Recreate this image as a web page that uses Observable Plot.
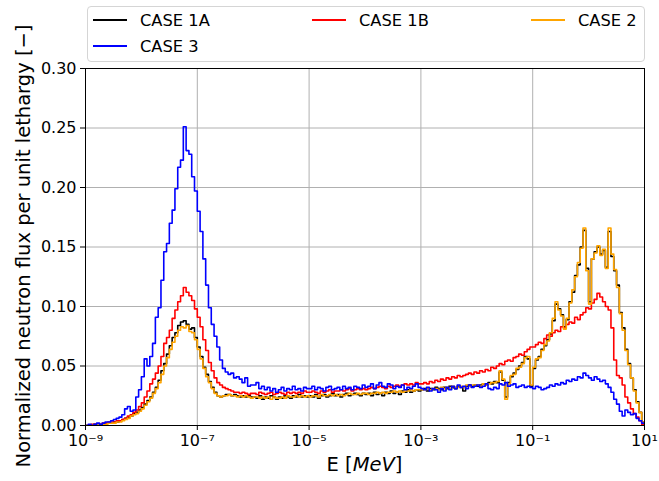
<!DOCTYPE html>
<html><head><meta charset="utf-8">
<script src="https://cdn.jsdelivr.net/npm/d3@7"></script>
<script src="https://cdn.jsdelivr.net/npm/@observablehq/plot@0.6"></script>
<style>
body{margin:0;background:#fff;font-family:"DejaVu Sans",sans-serif;}
#wrap{position:relative;width:659px;height:481px;}
#legend{position:absolute;left:87px;top:6px;width:558px;height:56px;box-sizing:border-box;border:1px solid #d5d5d5;border-radius:4px;background:rgba(255,255,255,0.85);}
.item{position:absolute;display:flex;align-items:center;font-size:16.3px;color:#000;white-space:nowrap;height:20px;margin-top:-10px;}
.sw{width:34px;height:0;border-top:2px solid;margin-right:13px;}
</style></head><body><div id="wrap"><div id="legend"></div></div>
<script>
// Bins: 20 per decade, from E = 1e-9 MeV to 1e1 MeV (200 bins)
const logStart = -9;
const binsPerDecade = 20;

const case1A = [
 0.000,0.000,0.000,0.001,0.001,0.001,0.001,0.002,0.002,0.002,0.003,0.003,0.004,0.005,0.006,0.007,0.008,0.010,0.011,0.013,
 0.015,0.018,0.021,0.024,0.028,0.032,0.038,0.046,0.052,0.060,0.067,0.074,0.078,0.084,0.087,0.088,0.085,0.081,0.082,0.074,
 0.066,0.058,0.049,0.043,0.037,0.032,0.028,0.025,0.024,0.025,0.026,0.026,0.025,0.026,0.025,0.024,0.025,0.024,0.025,0.024,
 0.024,0.023,0.025,0.022,0.024,0.023,0.025,0.024,0.022,0.024,0.023,0.025,0.024,0.023,0.025,0.024,0.026,0.024,0.025,0.024,
 0.025,0.024,0.026,0.023,0.025,0.026,0.024,0.025,0.027,0.025,0.026,0.024,0.026,0.027,0.025,0.026,0.027,0.026,0.025,0.027,
 0.026,0.027,0.025,0.028,0.026,0.027,0.025,0.028,0.027,0.029,0.027,0.028,0.026,0.029,0.028,0.030,0.028,0.029,0.030,0.029,
 0.030,0.031,0.029,0.031,0.030,0.032,0.031,0.030,0.032,0.031,0.033,0.032,0.031,0.033,0.032,0.029,0.033,0.034,0.033,0.034,
 0.033,0.034,0.035,0.034,0.036,0.035,0.037,0.036,0.045,0.038,0.024,0.036,0.041,0.044,0.047,0.050,0.053,0.058,0.056,0.033,
 0.048,0.055,0.058,0.064,0.067,0.072,0.077,0.088,0.102,0.098,0.093,0.083,0.089,0.104,0.112,0.126,0.135,0.150,0.164,0.132,
 0.104,0.140,0.146,0.150,0.144,0.147,0.133,0.163,0.142,0.130,0.118,0.095,0.082,0.064,0.052,0.040,0.030,0.020,0.011,0.003
];
const case1B = [
 0.000,0.000,0.001,0.001,0.001,0.001,0.002,0.002,0.003,0.003,0.003,0.004,0.004,0.005,0.006,0.008,0.009,0.011,0.013,0.016,
 0.019,0.024,0.029,0.035,0.039,0.044,0.050,0.058,0.069,0.074,0.080,0.090,0.097,0.104,0.109,0.116,0.112,0.109,0.105,0.098,
 0.091,0.083,0.072,0.063,0.053,0.046,0.040,0.036,0.034,0.032,0.031,0.030,0.029,0.028,0.028,0.027,0.028,0.027,0.026,0.027,
 0.027,0.026,0.028,0.027,0.026,0.027,0.028,0.026,0.027,0.028,0.027,0.026,0.028,0.027,0.028,0.027,0.028,0.027,0.029,0.028,
 0.028,0.029,0.028,0.027,0.029,0.028,0.029,0.030,0.028,0.029,0.029,0.030,0.029,0.030,0.031,0.029,0.030,0.031,0.030,0.031,
 0.030,0.031,0.032,0.031,0.032,0.033,0.032,0.031,0.033,0.032,0.033,0.034,0.033,0.034,0.035,0.034,0.035,0.034,0.036,0.035,
 0.035,0.036,0.035,0.037,0.036,0.038,0.037,0.039,0.038,0.040,0.039,0.041,0.040,0.042,0.041,0.042,0.043,0.044,0.043,0.045,
 0.044,0.046,0.045,0.047,0.046,0.049,0.048,0.050,0.052,0.051,0.054,0.055,0.054,0.057,0.058,0.060,0.059,0.062,0.064,0.066,
 0.066,0.068,0.070,0.069,0.073,0.076,0.075,0.078,0.080,0.079,0.083,0.082,0.085,0.087,0.086,0.091,0.089,0.093,0.095,0.099,
 0.098,0.103,0.106,0.111,0.108,0.104,0.100,0.097,0.082,0.055,0.042,0.040,0.034,0.024,0.019,0.014,0.010,0.007,0.004,0.001
];
const case2 = [
 0.000,0.000,0.000,0.000,0.001,0.001,0.001,0.001,0.002,0.002,0.002,0.003,0.003,0.004,0.005,0.006,0.008,0.009,0.010,0.012,
 0.014,0.017,0.020,0.023,0.027,0.031,0.036,0.043,0.050,0.057,0.064,0.070,0.075,0.080,0.083,0.082,0.084,0.079,0.078,0.072,
 0.064,0.056,0.048,0.041,0.036,0.031,0.027,0.025,0.024,0.025,0.025,0.026,0.025,0.025,0.024,0.025,0.024,0.025,0.024,0.023,
 0.024,0.024,0.023,0.024,0.023,0.024,0.022,0.024,0.023,0.023,0.024,0.023,0.025,0.024,0.024,0.025,0.024,0.025,0.024,0.025,
 0.024,0.025,0.025,0.024,0.026,0.025,0.025,0.026,0.025,0.026,0.025,0.026,0.025,0.026,0.027,0.026,0.026,0.027,0.026,0.027,
 0.027,0.026,0.027,0.027,0.028,0.027,0.028,0.027,0.028,0.028,0.029,0.028,0.029,0.028,0.029,0.029,0.030,0.029,0.030,0.030,
 0.030,0.030,0.031,0.030,0.031,0.031,0.030,0.032,0.031,0.032,0.031,0.033,0.032,0.032,0.033,0.032,0.034,0.033,0.034,0.034,
 0.034,0.033,0.035,0.034,0.035,0.036,0.036,0.037,0.046,0.039,0.022,0.035,0.042,0.043,0.048,0.049,0.052,0.057,0.058,0.034,
 0.049,0.056,0.057,0.063,0.068,0.071,0.078,0.090,0.104,0.097,0.092,0.081,0.090,0.103,0.114,0.125,0.137,0.149,0.166,0.130,
 0.102,0.140,0.145,0.151,0.143,0.148,0.132,0.166,0.144,0.131,0.116,0.094,0.080,0.063,0.051,0.040,0.029,0.019,0.011,0.003
];
const case3 = [
 0.000,0.001,0.000,0.001,0.002,0.001,0.002,0.003,0.003,0.004,0.005,0.006,0.007,0.009,0.014,0.016,0.012,0.013,0.024,0.030,
 0.041,0.056,0.050,0.058,0.069,0.091,0.099,0.122,0.146,0.153,0.170,0.181,0.199,0.217,0.223,0.251,0.231,0.228,0.209,0.197,
 0.180,0.163,0.140,0.118,0.099,0.085,0.075,0.066,0.055,0.048,0.045,0.043,0.044,0.040,0.041,0.039,0.036,0.040,0.033,0.034,
 0.034,0.036,0.031,0.033,0.030,0.032,0.029,0.031,0.028,0.030,0.032,0.029,0.031,0.030,0.033,0.030,0.031,0.029,0.032,0.031,
 0.031,0.033,0.030,0.032,0.031,0.029,0.032,0.033,0.030,0.031,0.032,0.030,0.033,0.031,0.032,0.030,0.033,0.032,0.031,0.034,
 0.032,0.033,0.035,0.031,0.034,0.036,0.033,0.032,0.035,0.034,0.031,0.033,0.032,0.034,0.030,0.032,0.031,0.033,0.035,0.032,
 0.031,0.030,0.032,0.029,0.031,0.030,0.028,0.031,0.029,0.032,0.030,0.033,0.031,0.034,0.032,0.033,0.031,0.034,0.032,0.033,
 0.034,0.032,0.033,0.035,0.031,0.030,0.032,0.031,0.035,0.034,0.036,0.033,0.034,0.035,0.032,0.033,0.034,0.032,0.033,0.032,
 0.031,0.033,0.032,0.030,0.031,0.032,0.034,0.033,0.035,0.034,0.036,0.035,0.038,0.037,0.039,0.038,0.041,0.040,0.044,0.042,
 0.040,0.038,0.041,0.039,0.037,0.038,0.035,0.032,0.028,0.022,0.018,0.012,0.008,0.013,0.011,0.009,0.010,0.006,0.004,0.002
];

const seriesNames = ["CASE 1A", "CASE 1B", "CASE 2", "CASE 3"];
const seriesColors = ["black", "red", "orange", "blue"];
const seriesValues = [case1A, case1B, case2, case3];

const xTicks = [1e-9, 1e-7, 1e-5, 1e-3, 1e-1, 1e1];
const yTicks = [0, 0.05, 0.10, 0.15, 0.20, 0.25, 0.30];

const sup = {"-":"\u207B","0":"\u2070","1":"\u00B9","2":"\u00B2","3":"\u00B3","4":"\u2074","5":"\u2075","6":"\u2076","7":"\u2077","8":"\u2078","9":"\u2079"};
const fmtPow = d => "10" + String(Math.round(Math.log10(d))).split("").map(c => sup[c]).join("");

const toSteps = vals => {
  const pts = vals.map((v, i) => ({x: Math.pow(10, logStart + i / binsPerDecade), y: v}));
  pts.push({x: Math.pow(10, logStart + vals.length / binsPerDecade), y: vals[vals.length - 1]});
  return pts;
};

const chart = Plot.plot({
  width: 659, height: 481,
  marginLeft: 85, marginRight: 15, marginTop: 68, marginBottom: 56,
  style: {fontFamily: "DejaVu Sans", fontSize: "16px", background: "white", color: "black"},
  x: {type: "log", domain: [1e-9, 10]},
  y: {domain: [0, 0.30]},
  marks: [
    Plot.gridX(xTicks, {stroke: "#b0b0b0", strokeOpacity: 1, strokeWidth: 1}),
    Plot.gridY(yTicks, {stroke: "#b0b0b0", strokeOpacity: 1, strokeWidth: 1}),
    ...seriesValues.map((vals, k) => Plot.line(toSteps(vals), {x: "x", y: "y", stroke: seriesColors[k], strokeWidth: 1.6, curve: "step-after", clip: true})),
    Plot.frame({stroke: "black", strokeWidth: 1}),
    Plot.axisX(xTicks, {tickFormat: fmtPow, tickSize: 5, tickPadding: 4, fontSize: 16, label: null}),
    Plot.axisY(yTicks, {tickFormat: d => d.toFixed(2), tickSize: 5, tickPadding: 4, fontSize: 16, label: null})
  ]
});

const svg = d3.select(chart);
svg.append("text")
  .attr("transform", "translate(24,246) rotate(-90)")
  .attr("text-anchor", "middle").attr("dominant-baseline", "middle")
  .attr("font-family", "DejaVu Sans").attr("font-size", 19.5).attr("fill", "black")
  .text("Normalized neutron flux per unit lethargy [\u2212]");
const xl = svg.append("text")
  .attr("x", 364.5).attr("y", 465)
  .attr("text-anchor", "middle").attr("dominant-baseline", "middle")
  .attr("font-family", "DejaVu Sans").attr("font-size", 19.5).attr("fill", "black");
xl.append("tspan").text("E [");
xl.append("tspan").attr("font-style", "italic").text("MeV");
xl.append("tspan").text("]");

const wrap = document.getElementById("wrap");
wrap.insertBefore(chart, wrap.firstChild);

const legendCol = [0, 1, 2, 0];
const legendRow = [0, 0, 0, 1];
const colLeft = [5, 224, 443];
const rowMid = [13, 39];
const legend = document.getElementById("legend");
seriesNames.forEach((name, k) => {
  const it = document.createElement("div");
  it.className = "item";
  it.style.left = colLeft[legendCol[k]] + "px";
  it.style.top = rowMid[legendRow[k]] + "px";
  const sw = document.createElement("span");
  sw.className = "sw";
  sw.style.borderTopColor = seriesColors[k];
  const tx = document.createElement("span");
  tx.textContent = name;
  it.appendChild(sw); it.appendChild(tx);
  legend.appendChild(it);
});
</script>
</body></html>
